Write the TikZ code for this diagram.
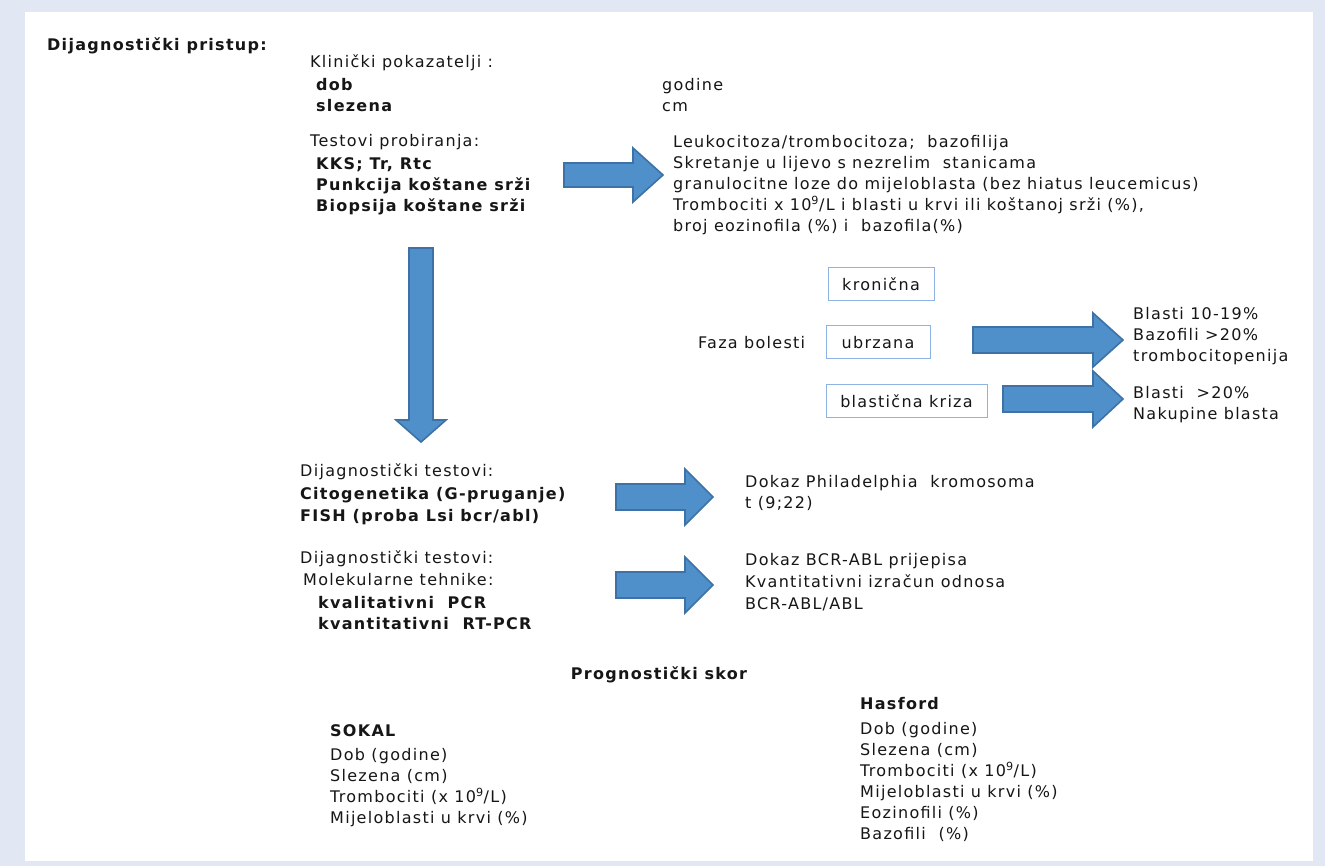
\documentclass[tikz,border=0pt]{standalone}
\usepackage{fontspec}
\setmainfont[LetterSpace=8]{DejaVu Sans}
\usetikzlibrary{positioning}
\definecolor{pozadina}{HTML}{E1E8F4}
\definecolor{strplava}{HTML}{4F8FCA}
\definecolor{strrub}{HTML}{3E72A6}
\definecolor{okvir}{HTML}{8DB3E2}
\definecolor{tekst}{HTML}{161616}
\newcommand{\tk}{\fontsize{16}{21}\selectfont}
% block arrow: tail x, head base x, tip x, centre y, half shaft, half head
\newcommand{\desnastrelica}[6]{%
  \draw[strelica] (#1,#4-#5) -- (#2,#4-#5) -- (#2,#4-#6) -- (#3,#4)
    -- (#2,#4+#6) -- (#2,#4+#5) -- (#1,#4+#5) -- cycle;}

\begin{document}
\begin{tikzpicture}[x=1pt,y=-1pt]

      \tikzset{
            blok/.style = {anchor=north west, inner sep=0pt, align=left, text=tekst, font=\tk, execute at begin node=\strut},
            faza/.style = {draw=okvir, line width=1pt, fill=white, text=tekst, font=\tk, minimum height=33pt, inner sep=0pt},
            strelica/.style = {draw=strrub, line width=1.6pt, fill=strplava, line join=miter}
      }

      % Background and panel
      \fill[pozadina] (0,0) rectangle (1325,866);
      \fill[white] (25,12) rectangle (1313,861);

      % Title
      \node[blok, font=\tk\bfseries] (naslov) at (47,36) {Dijagnostički pristup:};

      % Clinical indicators
      \node[blok] (klinicki) at (310,53) {Klinički pokazatelji :};
      \node[blok, font=\tk\bfseries] (klinbold) at (316,78.3) {dob\\slezena};
      \node[blok] (jedinice) at (662,78.3) {godine\\cm};

      % Screening tests
      \node[blok] (probir) at (310,132) {Testovi probiranja:};
      \node[blok, font=\tk\bfseries] (probirbold) at (316,157.3) {KKS; Tr, Rtc\\Punkcija koštane srži\\Biopsija koštane srži};
      \node[blok] (nalaz) at (673,135.3) {Leukocitoza/trombocitoza;\ \ bazofilija\\
            Skretanje u lijevo s nezrelim\ \ stanicama\\
            granulocitne loze do mijeloblasta (bez hiatus leucemicus)\\
            Trombociti x 10\textsuperscript{9}/L i blasti u krvi ili koštanoj srži (\%),\\
            broj eozinofila (\%) i\ \ bazofila(\%)};
      \desnastrelica{564}{633}{663}{175}{12}{27}

      % Down arrow
      \draw[strelica] (409,248) -- (433,248) -- (433,420) -- (446,420) -- (421,442)
            -- (396,420) -- (409,420) -- cycle;

      % Disease phase
      \node[blok] (faza) at (698,333.3) {Faza bolesti};
      \node[faza, minimum width=106pt] (kronicna) at (881,284) {kronična};
      \node[faza, minimum width=104pt] (ubrzana) at (878,342.5) {ubrzana};
      \node[faza, minimum width=161pt] (blasticna) at (906.5,401) {blastična kriza};
      \desnastrelica{973}{1093}{1123}{340}{13}{27}
      \desnastrelica{1003}{1093}{1123}{399}{13}{28}
      \node[blok] (ubrznalaz) at (1133,307.3) {Blasti 10-19\%\\Bazofili >20\%\\trombocitopenija};
      \node[blok] (krizanalaz) at (1133,386.3) {Blasti\ \ >20\%\\Nakupine blasta};

      % Diagnostic tests: cytogenetics
      \node[blok] (dijag1) at (300,461.3) {Dijagnostički testovi:};
      \node[blok, font=\tk\bfseries] (dijag1bold) at (300,487.3) {Citogenetika (G-pruganje)\\[1pt]FISH (proba Lsi bcr/abl)};
      \desnastrelica{616}{685}{713}{497}{13}{28}
      \node[blok] (philadelphia) at (745,475.3) {Dokaz Philadelphia\ \ kromosoma\\t (9;22)};

      % Diagnostic tests: molecular
      \node[blok] (dijag2) at (300,548.3) {Dijagnostički testovi:};
      \node[blok] (molek) at (303,570.3) {Molekularne tehnike:};
      \node[blok, font=\tk\bfseries] (molekbold) at (318,596.3) {kvalitativni\ \ PCR\\kvantitativni\ \ RT-PCR};
      \desnastrelica{616}{685}{713}{585}{13}{28}
      \node[blok] (bcrabl) at (745,553.3) {Dokaz BCR-ABL prijepisa\\[1pt]Kvantitativni izračun odnosa\\[1pt]BCR-ABL/ABL};

      % Prognostic scores
      \node[anchor=base, inner sep=0pt, text=tekst, font=\tk\bfseries] (skor) at (659,679) {Prognostički skor};
      \node[blok, font=\tk\bfseries] (sokal) at (330,721.3) {SOKAL};
      \node[blok] (sokallista) at (330,748.3) {Dob (godine)\\Slezena (cm)\\Trombociti (x 10\textsuperscript{9}/L)\\Mijeloblasti u krvi (\%)};
      \node[blok, font=\tk\bfseries] (hasford) at (860,694.3) {Hasford};
      \node[blok] (hasfordlista) at (860,722.3) {Dob (godine)\\Slezena (cm)\\Trombociti (x 10\textsuperscript{9}/L)\\Mijeloblasti u krvi (\%)\\Eozinofili (\%)\\Bazofili\ \ (\%)};

\end{tikzpicture}
\end{document}
